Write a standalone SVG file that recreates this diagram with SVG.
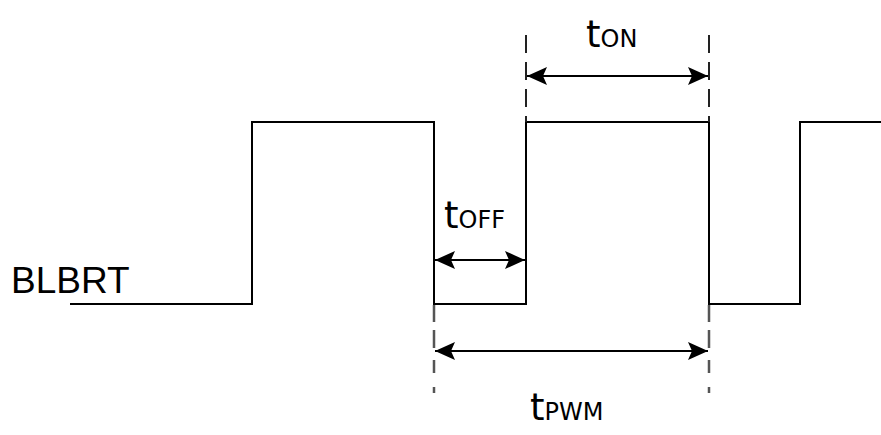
<svg xmlns="http://www.w3.org/2000/svg" width="881" height="435" viewBox="0 0 881 435">
<style>
.wave{fill:none;stroke:#000;stroke-width:2}
.dim{fill:none;stroke:#000;stroke-width:2}
.ext{fill:none;stroke:#222;stroke-width:2}
.ext2{fill:none;stroke:#555;stroke-width:2.5}
.t{font-family:"DejaVu Sans",sans-serif;fill:#000}
.big{font-size:37px}
.sub{font-size:24px}
.lbl{font-family:"Liberation Sans",Arial,sans-serif;font-size:37px;fill:#000}
</style>
<defs>
<marker id="ah" markerUnits="userSpaceOnUse" markerWidth="22" markerHeight="22" viewBox="-21 -11 22 22" refX="0" refY="0" orient="auto-start-reverse">
<path d="M0,0 L-20,-9 L-16,0 L-20,9 Z" fill="#000"/>
</marker>
</defs>
<rect width="881" height="435" fill="#fff"/>
<g id="signal">
<polyline class="wave" points="70,304 252,304 252,122 434,122 434,304 526,304 526,122 709,122 709,304 800,304 800,122 881,122"/>
</g>
<g id="connectors">
<line class="ext" x1="526" y1="35" x2="526" y2="122" stroke-dasharray="18 9"/>
<line class="ext" x1="709" y1="35" x2="709" y2="122" stroke-dasharray="18 9"/>
<line class="ext2" x1="434" y1="305" x2="434" y2="393" stroke-dasharray="17 8 18 12 13 14 6 100"/>
<line class="ext2" x1="709" y1="305" x2="709" y2="393" stroke-dasharray="17 8 18 12 13 14 6 100"/>
<line class="dim" x1="527" y1="76" x2="708" y2="76" marker-start="url(#ah)" marker-end="url(#ah)"/>
<line class="dim" x1="435" y1="260" x2="525" y2="260" marker-start="url(#ah)" marker-end="url(#ah)"/>
<line class="dim" x1="435" y1="351" x2="708" y2="351" marker-start="url(#ah)" marker-end="url(#ah)"/>
</g>
<g id="label-blbrt">
<text class="lbl" x="11" y="293">BLBRT</text>
</g>
<g id="label-ton">
<text class="t" x="586" y="47"><tspan class="big">t</tspan><tspan class="sub">ON</tspan></text>
</g>
<g id="label-toff">
<text class="t" x="444" y="228"><tspan class="big">t</tspan><tspan class="sub">OFF</tspan></text>
</g>
<g id="label-tpwm">
<text class="t" x="530" y="420"><tspan class="big">t</tspan><tspan class="sub">PWM</tspan></text>
</g>
</svg>
